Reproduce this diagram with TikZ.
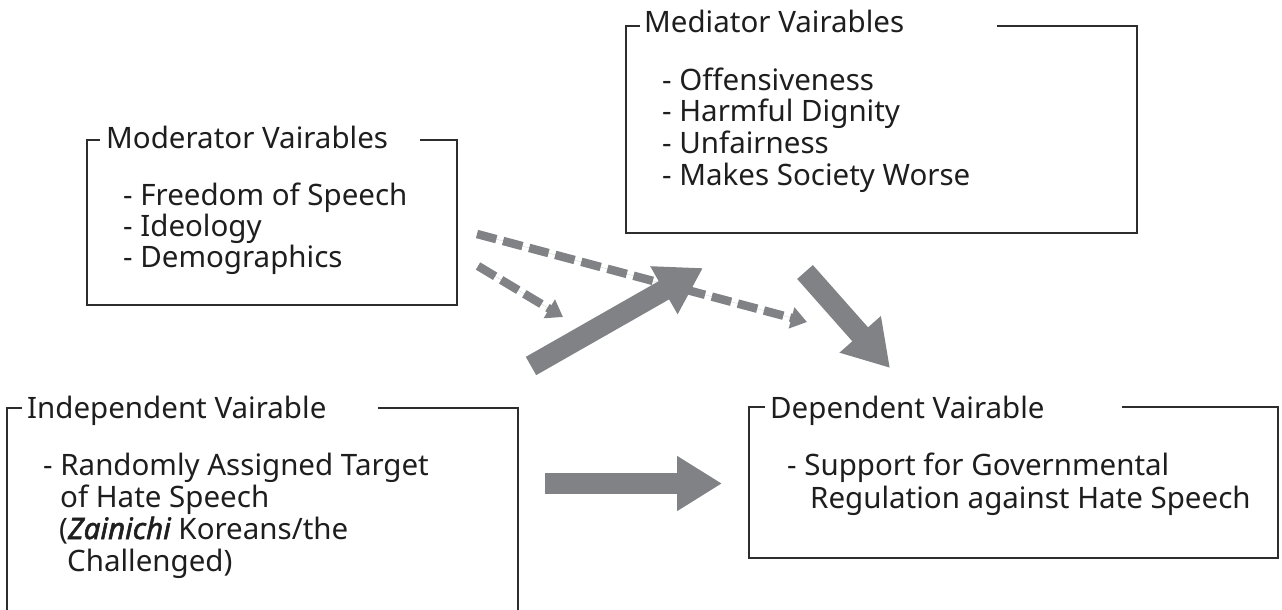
\documentclass[tikz,border=0pt]{standalone}
\usepackage{fontspec}
\setmainfont{Noto Sans}
\usetikzlibrary{arrows.meta}
\definecolor{arrowgray}{RGB}{128,130,134}
\definecolor{framegray}{RGB}{45,45,45}
\definecolor{inkblack}{RGB}{30,30,30}
\newcommand{\heavyitalic}[1]{{\itshape\addfontfeature{FakeBold=1.8}#1}}
\begin{document}
\begin{tikzpicture}[x=1pt,y=-1pt,
  area/.style={draw=none, inner sep=0pt, outer sep=0pt},
  border/.style={draw=framegray, line width=1.2pt},
  txt/.style={anchor=base west, inner sep=0pt, text=inkblack,
    font=\fontsize{29.5}{33}\selectfont},
  bigarrow/.style={draw=arrowgray, fill=arrowgray, line width=21pt,
    -{Triangle[length=45pt,width=52pt]}},
  dasharrow/.style={draw=arrowgray, fill=arrowgray, line width=8.5pt,
    dash pattern=on 20pt off 7pt, -{Triangle[length=16pt,width=21pt]}}]
\useasboundingbox (0,0) rectangle (1282,610);

% frames of the four variable groups
\node[area, minimum width=370pt, minimum height=165pt] (mod) at (272,222.5) {};
\node[area, minimum width=511pt, minimum height=207pt] (med) at (881.5,129.5) {};
\node[area, minimum width=511pt, minimum height=232pt] (ind) at (262.5,524) {};
\node[area, minimum width=529pt, minimum height=151pt] (dep) at (1013.5,482.5) {};

\draw[border] ([xshift=-37pt]mod.north east) -- (mod.north east) -- (mod.south east)
  -- (mod.south west) -- (mod.north west) -- ([xshift=13pt]mod.north west);
\draw[border] ([xshift=-140pt]med.north east) -- (med.north east) -- (med.south east)
  -- (med.south west) -- (med.north west) -- ([xshift=14pt]med.north west);
\draw[border] ([xshift=-140pt]ind.north east) -- (ind.north east) -- (ind.south east)
  -- (ind.south west) -- (ind.north west) -- ([xshift=15pt]ind.north west);
\draw[border] ([xshift=-156pt]dep.north east) -- (dep.north east) -- (dep.south east)
  -- (dep.south west) -- (dep.north west) -- ([xshift=16pt]dep.north west);

% moderator variables
\node[txt] (modt) at (106,148) {Moderator Vairables};
\node[txt] (mod1) at (123,205) {- Freedom of Speech};
\node[txt] (mod2) at (123,236) {- Ideology};
\node[txt] (mod3) at (123,267) {- Demographics};

% mediator variables
\node[txt] (medt) at (644,33) {Mediator Vairables};
\node[txt] (med1) at (662,90) {- Offensiveness};
\node[txt] (med2) at (662,121.5) {- Harmful Dignity};
\node[txt] (med3) at (662,153) {- Unfairness};
\node[txt] (med4) at (662,185) {- Makes Society Worse};

% independent variable
\node[txt] (indt) at (27,418) {Independent Vairable};
\node[txt] (ind1) at (43,475) {- Randomly Assigned Target};
\node[txt] (ind2) at (60,507) {of Hate Speech};
\node[txt] (ind3) at (59,539) {(\heavyitalic{Zainichi} Koreans/the};
\node[txt] (ind4) at (67,571) {Challenged)};

% dependent variable
\node[txt] (dept) at (770,418) {Dependent Vairable};
\node[txt] (dep1) at (787,475) {- Support for Governmental};
\node[txt] (dep2) at (810,508) {Regulation against Hate Speech};

% arrow end points
\coordinate (modA) at (477,234);
\coordinate (depA) at (807,322);
\coordinate (modB) at (478,266);
\coordinate (pathB) at (563,317);
\coordinate (indA) at (531,366);
\coordinate (medA) at (703,268);
\coordinate (indB) at (545,483.5);
\coordinate (depB) at (722,483.5);
\coordinate (medB) at (805,272);
\coordinate (depC) at (890,368);

% moderating effects
\draw[dasharrow] (modA) -- (depA);
\draw[dasharrow] (modB) -- (pathB);

% causal paths
\draw[bigarrow] (indA) -- (medA);
\draw[bigarrow] (indB) -- (depB);
\draw[bigarrow] (medB) -- (depC);
\end{tikzpicture}
\end{document}
